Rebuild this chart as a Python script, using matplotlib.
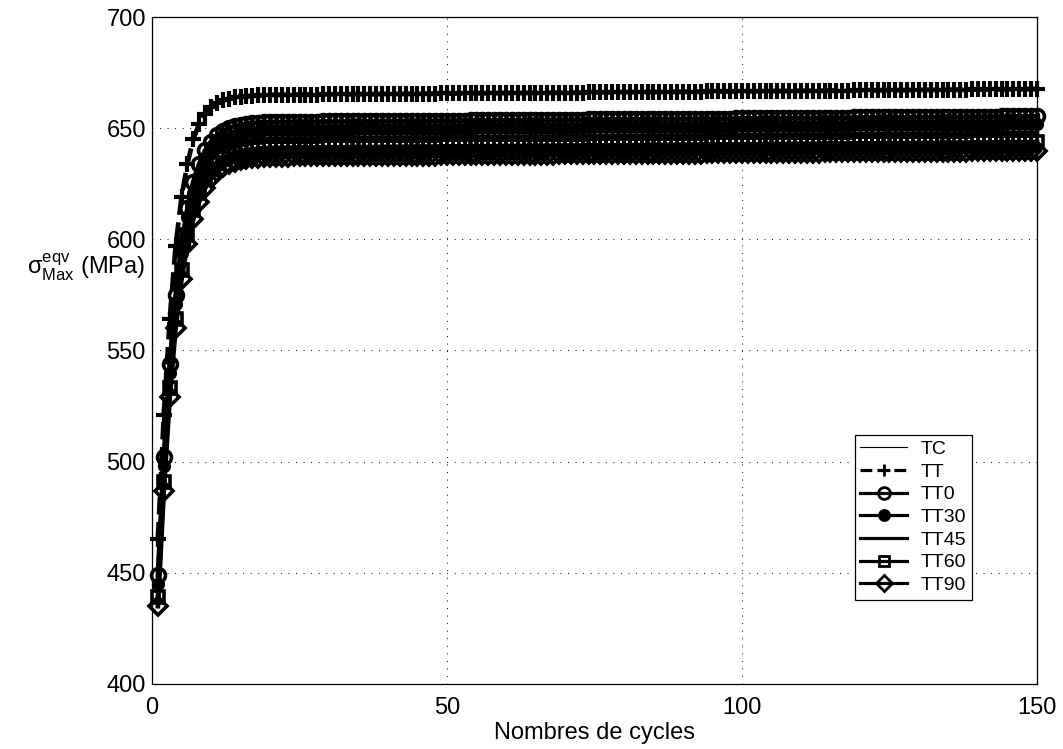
import numpy as np
import matplotlib
matplotlib.use('Agg')
import matplotlib.pyplot as plt

plt.rcParams['font.family'] = ['Liberation Sans', 'DejaVu Sans']
plt.rcParams['mathtext.fontset'] = 'custom'
plt.rcParams['mathtext.rm'] = 'Liberation Sans'
plt.rcParams['mathtext.it'] = 'Liberation Sans:italic'

# cycle numbers 1..150 (one point per cycle)
cycles = np.arange(1, 151)

# sigma max equivalent (MPa)
TC = [447, 500, 542, 573, 596, 612, 624, 632, 638, 642,
      645, 646.8, 648, 649, 649.7, 650.2, 650.5, 650.8, 651, 651.1,
      651.2, 651.2, 651.2, 651.3, 651.3, 651.3, 651.3, 651.3, 651.4, 651.4,
      651.4, 651.4, 651.4, 651.5, 651.5, 651.5, 651.5, 651.5, 651.6, 651.6,
      651.6, 651.6, 651.6, 651.7, 651.7, 651.7, 651.7, 651.7, 651.8, 651.8,
      651.8, 651.8, 651.8, 651.9, 651.9, 651.9, 651.9, 651.9, 652.0, 652.0,
      652.0, 652.0, 652.0, 652.1, 652.1, 652.1, 652.1, 652.1, 652.2, 652.2,
      652.2, 652.2, 652.2, 652.3, 652.3, 652.3, 652.3, 652.3, 652.4, 652.4,
      652.4, 652.4, 652.4, 652.5, 652.5, 652.5, 652.5, 652.5, 652.6, 652.6,
      652.6, 652.6, 652.6, 652.7, 652.7, 652.7, 652.7, 652.7, 652.8, 652.8,
      652.8, 652.8, 652.8, 652.9, 652.9, 652.9, 652.9, 652.9, 653.0, 653.0,
      653.0, 653.0, 653.0, 653.1, 653.1, 653.1, 653.1, 653.1, 653.2, 653.2,
      653.2, 653.2, 653.2, 653.3, 653.3, 653.3, 653.3, 653.3, 653.4, 653.4,
      653.4, 653.4, 653.4, 653.5, 653.5, 653.5, 653.5, 653.5, 653.6, 653.6,
      653.6, 653.6, 653.6, 653.7, 653.7, 653.7, 653.7, 653.7, 653.8, 653.8]

TT = [465, 521, 564, 597, 619, 634, 645, 652, 656.5, 659.5,
      661.3, 662.5, 663.3, 663.8, 664.2, 664.4, 664.6, 664.7, 664.8, 664.9,
      665.0, 665.0, 665.0, 665.1, 665.1, 665.1, 665.1, 665.1, 665.2, 665.2,
      665.2, 665.2, 665.2, 665.3, 665.3, 665.3, 665.3, 665.3, 665.4, 665.4,
      665.4, 665.4, 665.4, 665.5, 665.5, 665.5, 665.5, 665.5, 665.6, 665.6,
      665.6, 665.6, 665.6, 665.7, 665.7, 665.7, 665.7, 665.7, 665.8, 665.8,
      665.8, 665.8, 665.8, 665.9, 665.9, 665.9, 665.9, 665.9, 666.0, 666.0,
      666.0, 666.0, 666.0, 666.1, 666.1, 666.1, 666.1, 666.1, 666.2, 666.2,
      666.2, 666.2, 666.2, 666.3, 666.3, 666.3, 666.3, 666.3, 666.4, 666.4,
      666.4, 666.4, 666.4, 666.5, 666.5, 666.5, 666.5, 666.5, 666.6, 666.6,
      666.6, 666.6, 666.6, 666.7, 666.7, 666.7, 666.7, 666.7, 666.8, 666.8,
      666.8, 666.8, 666.8, 666.9, 666.9, 666.9, 666.9, 666.9, 667.0, 667.0,
      667.0, 667.0, 667.0, 667.1, 667.1, 667.1, 667.1, 667.1, 667.2, 667.2,
      667.2, 667.2, 667.2, 667.3, 667.3, 667.3, 667.3, 667.3, 667.4, 667.4,
      667.4, 667.4, 667.4, 667.5, 667.5, 667.5, 667.5, 667.5, 667.6, 667.6]

TT0 = [449, 502, 544, 575, 598, 614, 626, 634, 640, 644,
       646.8, 648.7, 650, 650.9, 651.5, 652, 652.3, 652.5, 652.7, 652.8,
       652.8, 652.8, 652.8, 652.9, 652.9, 652.9, 652.9, 652.9, 653.0, 653.0,
       653.0, 653.0, 653.0, 653.1, 653.1, 653.1, 653.1, 653.1, 653.2, 653.2,
       653.2, 653.2, 653.2, 653.3, 653.3, 653.3, 653.3, 653.3, 653.4, 653.4,
       653.4, 653.4, 653.4, 653.5, 653.5, 653.5, 653.5, 653.5, 653.6, 653.6,
       653.6, 653.6, 653.6, 653.7, 653.7, 653.7, 653.7, 653.7, 653.8, 653.8,
       653.8, 653.8, 653.8, 653.9, 653.9, 653.9, 653.9, 653.9, 654.0, 654.0,
       654.0, 654.0, 654.0, 654.1, 654.1, 654.1, 654.1, 654.1, 654.2, 654.2,
       654.2, 654.2, 654.2, 654.3, 654.3, 654.3, 654.3, 654.3, 654.4, 654.4,
       654.4, 654.4, 654.4, 654.5, 654.5, 654.5, 654.5, 654.5, 654.6, 654.6,
       654.6, 654.6, 654.6, 654.7, 654.7, 654.7, 654.7, 654.7, 654.8, 654.8,
       654.8, 654.8, 654.8, 654.9, 654.9, 654.9, 654.9, 654.9, 655.0, 655.0,
       655.0, 655.0, 655.0, 655.1, 655.1, 655.1, 655.1, 655.1, 655.2, 655.2,
       655.2, 655.2, 655.2, 655.3, 655.3, 655.3, 655.3, 655.3, 655.4, 655.4]

TT30 = [445, 498, 540, 571, 594, 610, 621, 629, 635, 639.5,
        642.5, 644.5, 646, 647, 647.7, 648.2, 648.5, 648.8, 649, 649.1,
        649.2, 649.2, 649.2, 649.3, 649.3, 649.3, 649.3, 649.3, 649.4, 649.4,
        649.4, 649.4, 649.4, 649.5, 649.5, 649.5, 649.5, 649.5, 649.6, 649.6,
        649.6, 649.6, 649.6, 649.7, 649.7, 649.7, 649.7, 649.7, 649.8, 649.8,
        649.8, 649.8, 649.8, 649.9, 649.9, 649.9, 649.9, 649.9, 650.0, 650.0,
        650.0, 650.0, 650.0, 650.1, 650.1, 650.1, 650.1, 650.1, 650.2, 650.2,
        650.2, 650.2, 650.2, 650.3, 650.3, 650.3, 650.3, 650.3, 650.4, 650.4,
        650.4, 650.4, 650.4, 650.5, 650.5, 650.5, 650.5, 650.5, 650.6, 650.6,
        650.6, 650.6, 650.6, 650.7, 650.7, 650.7, 650.7, 650.7, 650.8, 650.8,
        650.8, 650.8, 650.8, 650.9, 650.9, 650.9, 650.9, 650.9, 651.0, 651.0,
        651.0, 651.0, 651.0, 651.1, 651.1, 651.1, 651.1, 651.1, 651.2, 651.2,
        651.2, 651.2, 651.2, 651.3, 651.3, 651.3, 651.3, 651.3, 651.4, 651.4,
        651.4, 651.4, 651.4, 651.5, 651.5, 651.5, 651.5, 651.5, 651.6, 651.6,
        651.6, 651.6, 651.6, 651.7, 651.7, 651.7, 651.7, 651.7, 651.8, 651.8]

TT45 = [442, 495, 537, 568, 590, 606, 617, 625, 631, 635.5,
        638.5, 640.5, 642, 643, 643.7, 644.2, 644.5, 644.8, 645, 645.1,
        645.2, 645.2, 645.2, 645.3, 645.3, 645.3, 645.3, 645.3, 645.4, 645.4,
        645.4, 645.4, 645.4, 645.5, 645.5, 645.5, 645.5, 645.5, 645.6, 645.6,
        645.6, 645.6, 645.6, 645.7, 645.7, 645.7, 645.7, 645.7, 645.8, 645.8,
        645.8, 645.8, 645.8, 645.9, 645.9, 645.9, 645.9, 645.9, 646.0, 646.0,
        646.0, 646.0, 646.0, 646.1, 646.1, 646.1, 646.1, 646.1, 646.2, 646.2,
        646.2, 646.2, 646.2, 646.3, 646.3, 646.3, 646.3, 646.3, 646.4, 646.4,
        646.4, 646.4, 646.4, 646.5, 646.5, 646.5, 646.5, 646.5, 646.6, 646.6,
        646.6, 646.6, 646.6, 646.7, 646.7, 646.7, 646.7, 646.7, 646.8, 646.8,
        646.8, 646.8, 646.8, 646.9, 646.9, 646.9, 646.9, 646.9, 647.0, 647.0,
        647.0, 647.0, 647.0, 647.1, 647.1, 647.1, 647.1, 647.1, 647.2, 647.2,
        647.2, 647.2, 647.2, 647.3, 647.3, 647.3, 647.3, 647.3, 647.4, 647.4,
        647.4, 647.4, 647.4, 647.5, 647.5, 647.5, 647.5, 647.5, 647.6, 647.6,
        647.6, 647.6, 647.6, 647.7, 647.7, 647.7, 647.7, 647.7, 647.8, 647.8]

TT60 = [439, 491, 533, 564, 586, 602, 613, 621, 627, 631.5,
        634.5, 636.5, 638, 639, 639.7, 640.2, 640.5, 640.8, 641, 641.1,
        641.2, 641.2, 641.2, 641.3, 641.3, 641.3, 641.3, 641.3, 641.4, 641.4,
        641.4, 641.4, 641.4, 641.5, 641.5, 641.5, 641.5, 641.5, 641.6, 641.6,
        641.6, 641.6, 641.6, 641.7, 641.7, 641.7, 641.7, 641.7, 641.8, 641.8,
        641.8, 641.8, 641.8, 641.9, 641.9, 641.9, 641.9, 641.9, 642.0, 642.0,
        642.0, 642.0, 642.0, 642.1, 642.1, 642.1, 642.1, 642.1, 642.2, 642.2,
        642.2, 642.2, 642.2, 642.3, 642.3, 642.3, 642.3, 642.3, 642.4, 642.4,
        642.4, 642.4, 642.4, 642.5, 642.5, 642.5, 642.5, 642.5, 642.6, 642.6,
        642.6, 642.6, 642.6, 642.7, 642.7, 642.7, 642.7, 642.7, 642.8, 642.8,
        642.8, 642.8, 642.8, 642.9, 642.9, 642.9, 642.9, 642.9, 643.0, 643.0,
        643.0, 643.0, 643.0, 643.1, 643.1, 643.1, 643.1, 643.1, 643.2, 643.2,
        643.2, 643.2, 643.2, 643.3, 643.3, 643.3, 643.3, 643.3, 643.4, 643.4,
        643.4, 643.4, 643.4, 643.5, 643.5, 643.5, 643.5, 643.5, 643.6, 643.6,
        643.6, 643.6, 643.6, 643.7, 643.7, 643.7, 643.7, 643.7, 643.8, 643.8]

TT90 = [435, 487, 529, 560, 582, 598, 609, 617, 623, 627.5,
        630.5, 632.5, 634, 635, 635.7, 636.2, 636.5, 636.8, 637, 637.1,
        637.2, 637.2, 637.2, 637.3, 637.3, 637.3, 637.3, 637.3, 637.4, 637.4,
        637.4, 637.4, 637.4, 637.5, 637.5, 637.5, 637.5, 637.5, 637.6, 637.6,
        637.6, 637.6, 637.6, 637.7, 637.7, 637.7, 637.7, 637.7, 637.8, 637.8,
        637.8, 637.8, 637.8, 637.9, 637.9, 637.9, 637.9, 637.9, 638.0, 638.0,
        638.0, 638.0, 638.0, 638.1, 638.1, 638.1, 638.1, 638.1, 638.2, 638.2,
        638.2, 638.2, 638.2, 638.3, 638.3, 638.3, 638.3, 638.3, 638.4, 638.4,
        638.4, 638.4, 638.4, 638.5, 638.5, 638.5, 638.5, 638.5, 638.6, 638.6,
        638.6, 638.6, 638.6, 638.7, 638.7, 638.7, 638.7, 638.7, 638.8, 638.8,
        638.8, 638.8, 638.8, 638.9, 638.9, 638.9, 638.9, 638.9, 639.0, 639.0,
        639.0, 639.0, 639.0, 639.1, 639.1, 639.1, 639.1, 639.1, 639.2, 639.2,
        639.2, 639.2, 639.2, 639.3, 639.3, 639.3, 639.3, 639.3, 639.4, 639.4,
        639.4, 639.4, 639.4, 639.5, 639.5, 639.5, 639.5, 639.5, 639.6, 639.6,
        639.6, 639.6, 639.6, 639.7, 639.7, 639.7, 639.7, 639.7, 639.8, 639.8]

xticks = [0, 50, 100, 150]
yticks = [400, 450, 500, 550, 600, 650, 700]

fig = plt.figure(figsize=(10.63, 7.49), dpi=100)
ax = fig.add_axes([0.143, 0.0868, 0.8325, 0.8905])

lw = 3.4
common = dict(color='k', clip_on=False)
ax.plot(cycles, TC, '-', lw=0.8, label='TC', **common)
ax.plot(cycles, TT, '--', lw=lw, marker='+', ms=11, mew=3, label='TT', **common)
ax.plot(cycles, TT0, '-', lw=lw, marker='o', ms=10, mew=2.6,
        mfc='none', label='TT0', **common)
ax.plot(cycles, TT30, '-', lw=lw, marker='o', ms=8.5, mew=1,
        mfc='k', label='TT30', **common)
ax.plot(cycles, TT45, '-', lw=lw, label='TT45', **common)
ax.plot(cycles, TT60, '-', lw=lw, marker='s', ms=9, mew=2.6,
        mfc='none', label='TT60', **common)
ax.plot(cycles, TT90, '-', lw=lw, marker='D', ms=9.5, mew=2.6,
        mfc='none', label='TT90', **common)

ax.set_xlim(0, 150)
ax.set_ylim(400, 700)
ax.set_xticks(xticks)
ax.set_yticks(yticks)
ax.grid(True, color='k', linestyle=(0, (0.8, 6)), linewidth=0.8)
ax.tick_params(direction='in', length=0, labelsize=17)
ax.tick_params(axis='x', pad=9.5)
ax.tick_params(axis='y', pad=4.5)
for s in ax.spines.values():
    s.set_linewidth(0.9)

ax.set_xlabel('Nombres de cycles', fontsize=17, labelpad=2)
ax.set_ylabel(r'$\mathrm{\sigma^{eqv}_{Max}}$ (MPa)', fontsize=17,
              rotation=0, ha='center', va='center')
ax.yaxis.set_label_coords(-0.075, 0.625)

leg = ax.legend(loc='upper left', bbox_to_anchor=(0.794, 0.374), fontsize=14,
                frameon=True, fancybox=False, framealpha=1, edgecolor='k',
                borderpad=0.3, labelspacing=0.26, handlelength=2.4,
                handletextpad=0.7, borderaxespad=0, markerscale=0.85)
leg.get_frame().set_linewidth(0.9)
# thinner lines in the legend keys, as in the original
for h in leg.get_lines()[1:]:
    h.set_linewidth(2.3)
    h.set_markeredgewidth(2.0)

fig.savefig('out.png', dpi=100)
